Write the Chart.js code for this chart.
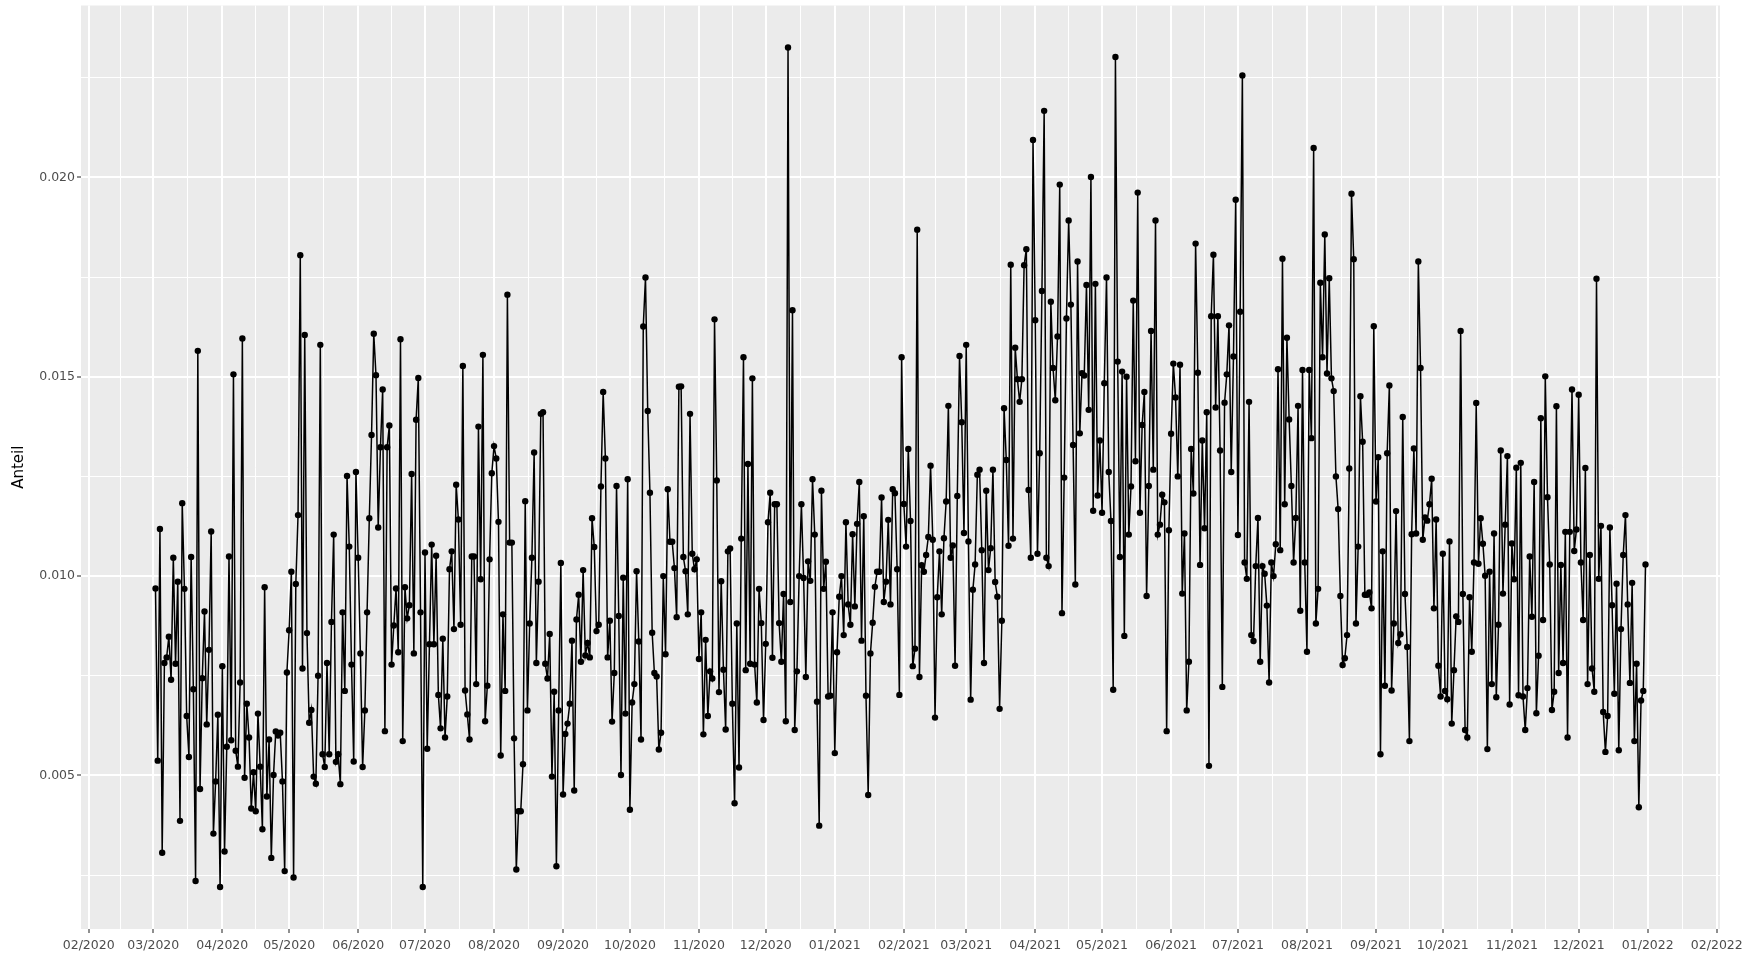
<!DOCTYPE html>
<html><head><meta charset="utf-8">
<script src="https://cdn.jsdelivr.net/npm/chart.js@4.4.0/dist/chart.umd.min.js"></script>
<style>html,body{margin:0;padding:0;background:#fff;}#wrap{width:1749px;height:957px;}</style>
</head><body><div id="wrap"><canvas id="c" width="1749" height="957"></canvas></div>
<script>
// ---- data ----
const startDate = '2020-03-02'; // first daily value, one value per day
const values2020 = [
0.00969,0.00537,0.01118,0.00306,0.00782,0.00796,0.00848,0.0074,0.01046,0.0078,
0.00986,0.00386,0.01183,0.00968,0.00649,0.00546,0.01048,0.00716,0.00235,0.01565,
0.00466,0.00744,0.00911,0.00628,0.00815,0.01112,0.00354,0.00485,0.00652,0.0022,
0.00774,0.00309,0.00572,0.01049,0.00588,0.01506,0.00562,0.00522,0.00733,0.01596,
0.00494,0.0068,0.00595,0.00417,0.00508,0.0041,0.00655,0.00522,0.00365,0.00972,
0.00447,0.0059,0.00293,0.00501,0.0061,
0.0060,0.00607,0.00485,0.0026,0.00758,0.00864,0.01011,0.00244,0.0098,0.01153,
0.01805,0.00768,0.01605,0.00857,0.00632,0.00664,0.00497,0.00479,0.0075,0.0158,
0.00553,0.00521,0.00782,0.00553,0.00885,0.01104,0.00534,0.00553,0.00478,0.00909,
0.00712,0.01251,0.01074,0.00778,0.00535,0.01261,0.01046,0.00806,0.00521,0.00663,
0.00909,0.01145,0.01354,0.01608,0.01504,0.01122,0.01323,0.01468,0.00611,0.01323,
0.01378,0.00778,0.00876,0.00969,0.00809,0.01594,
0.00586,0.00972,0.00894,0.00927,0.01256,0.00806,0.01392,0.01497,0.00909,0.0022,
0.01059,0.00567,0.00829,0.01079,0.00829,0.01051,0.00702,0.00618,0.00843,0.00595,
0.00698,0.01017,0.01062,0.00867,0.01229,0.01142,0.00878,0.01527,0.00713,0.00653,
0.0059,0.01049,0.01049,0.00729,0.01375,0.00992,0.01555,0.00636,0.00725,0.01042,
0.01258,0.01326,0.01295,0.01136,0.0055,0.00904,0.00712,0.01706,0.01084,0.01084,
0.00593,0.00264,0.0041,0.0041,0.00528,0.01188,
0.00663,0.00881,0.01046,0.0131,0.00782,0.00986,0.01407,0.01411,0.0078,0.00743,
0.00855,0.00497,0.0071,0.00272,0.00663,0.01033,0.00452,0.00604,0.0063,0.0068,
0.00838,0.00462,0.00891,0.00953,0.00785,0.01015,0.00801,0.00832,0.00796,0.01145,
0.01073,0.00862,0.00878,0.01225,0.01462,0.01295,0.00796,0.00888,0.00635,0.00757,
0.01226,0.009,0.00501,0.00996,0.00655,0.01243,0.00414,0.00683,0.00729,0.01012,
0.00836,0.0059,0.01626,0.01749,0.01414,0.01209,0.00858,
0.00757,0.00748,0.00565,0.00607,0.01,0.00804,0.01218,0.01086,0.01086,0.0102,
0.00897,0.01475,0.01476,0.01048,0.01012,0.00904,0.01407,0.01056,0.01017,0.01042,
0.00792,0.00909,0.00603,0.0084,0.00649,0.00761,0.00743,0.01644,0.0124,0.00709,
0.00987,0.00765,0.00615,0.01062,0.01069,0.0068,0.0043,0.00881,0.0052,0.01094,
0.01549,0.00764,0.01281,0.0078,0.01496,0.00778,0.00683,0.00968,0.00882,0.00639,
0.0083,0.01135,0.01209,0.00795,0.0118,0.0118,
0.00882,0.00785,0.00955,0.00636,0.02326,0.00935,0.01667,0.00614,0.00761,0.01,
0.0118,0.00995,0.00747,0.01037,0.00988,0.01243,0.01104,0.00685,0.00374,0.01214,
0.00968,0.01036,0.00698,0.007,0.00909
];
const values2021 = [
0.00556,0.00809,0.00948,0.01,0.00852,0.01135,0.00929,0.00878,0.01105,0.00924,
0.01131,0.01236,0.00838,0.0115,0.007,0.00451,0.00806,0.00883,0.00973,0.01011,
0.01011,0.01197,0.00935,0.00986,0.01141,0.00929,0.01218,0.01208,0.01017,0.00702,
0.01549,
0.01181,0.01074,0.01319,0.01138,0.00774,0.00818,0.01869,0.00747,0.01027,0.01011,
0.01053,0.01098,0.01277,0.01091,0.00645,0.00947,0.01062,0.00904,0.01095,0.01187,
0.01427,0.01046,0.01077,0.00775,0.01201,0.01552,0.01386,0.01108,0.0158,0.01087,
0.0069,0.00966,0.01029,0.01254,0.01267,0.01065,0.00782,0.01214,0.01015,0.0107,
0.01267,0.00985,0.00948,0.00667,0.00888,0.01421,0.01291,0.01076,0.01781,0.01094,
0.01573,0.01494,0.01437,0.01494,0.0178,0.0182,
0.01216,0.01046,0.02094,0.01642,0.01056,0.01308,0.01715,0.02167,0.01046,0.01025,
0.01688,0.01522,0.01441,0.01601,0.01982,0.00907,0.01247,0.01646,0.01892,0.01681,
0.01329,0.00979,0.01789,0.01358,0.01509,0.01503,0.0173,0.01417,0.02001,0.01164,
0.01733,0.01202,0.0134,0.01159,0.01484,0.01749,0.01261,0.01138,0.00715,0.02302,
0.01538,0.01048,0.01513,0.0085,0.015,0.01104,0.01225,0.01691,0.01288,0.01962,
0.01159,0.01379,0.01462,0.0095,0.01226,0.01615,0.01267,
0.01892,0.01104,0.01129,0.01204,0.01185,0.00611,0.01115,0.01357,0.01533,0.01448,
0.0125,0.0153,0.00956,0.01107,0.00663,0.00785,0.01319,0.01207,0.01834,0.0151,
0.01028,0.0134,0.0112,0.01411,0.00524,0.01652,0.01806,0.01423,0.01652,0.01315,
0.00722,0.01435,0.01506,0.01629,0.01261,0.01551,0.01944,0.01103,0.01663,0.02256,
0.01034,0.00993,0.01437,0.00852,0.00837,0.01025,0.01146,0.00785,0.01025,0.01006,
0.00926,0.00733,0.01034,0.01,0.0108,0.01519,0.01065,0.01796,
0.0118,0.01598,0.01393,0.01226,0.01034,0.01146,0.01427,0.00913,0.01517,0.01034,
0.0081,0.01517,0.01346,0.02074,0.00881,0.00968,0.01736,0.01549,0.01857,0.01508,
0.01747,0.01496,0.01464,0.0125,0.01168,0.0095,0.00777,0.00794,0.00852,0.0127,
0.01959,0.01795,0.00881,0.01074,0.01451,0.01337,0.00953,0.00953,0.00959,0.00919,
0.01627,0.01187,0.01298,0.00553,0.01062,0.00725,0.01308,0.01478,0.00713,0.00881,
0.01163,0.00832,0.00854,0.01399,0.00955,
0.00822,0.00586,0.01105,0.0132,0.01107,0.01789,0.01522,0.01091,0.01147,0.01139,
0.0118,0.01244,0.00919,0.01142,0.00775,0.00698,0.01056,0.00712,0.00691,0.01087,
0.0063,0.00764,0.00899,0.00885,0.01615,0.00955,0.00614,0.00595,0.00947,0.0081,
0.01034,0.01434,0.01031,0.01145,0.01081,0.01001,0.00566,0.01011,0.00729,0.01107,
0.00696,0.00878,0.01315,0.00956,0.01129,0.01301,0.00678,0.01082,0.00992,0.01272,
0.00701,0.01284,0.00698,0.00614,0.00719,0.01049,0.00898,
0.01236,0.00656,0.008,0.01396,0.0089,0.01501,0.01198,0.01029,0.00664,0.0071,
0.01426,0.00757,0.01028,0.00782,0.01111,0.00595,0.01111,0.01468,0.01063,0.01117,
0.01455,0.01034,0.0089,0.01271,0.00729,0.01053,0.00768,0.0071,0.01746,0.00993,
0.01126,0.00659,0.00559,0.00649,0.01122,0.00927,0.00705,0.00981,0.00563,0.00867,
0.01053,0.01153,0.00929,0.00732,0.00983,0.00586,0.0078,0.0042,0.00688,0.00712,
0.01029
];
const xTickLabels = ['02/2020','03/2020','04/2020','05/2020','06/2020','07/2020','08/2020','09/2020','10/2020','11/2020','12/2020','01/2021',
  '02/2021','03/2021','04/2021','05/2021','06/2021','07/2021','08/2021','09/2021','10/2021','11/2021','12/2021','01/2022','02/2022'];
const yTickValues = [0.005, 0.010, 0.015, 0.020];
const yTickLabels = ['0.005', '0.010', '0.015', '0.020'];
const yAxisTitle = 'Anteil';

// ---- build ----
const DAY = 86400000;
const origin = Date.UTC(2020, 1, 1);
const dayOf = (y, m, d) => Math.round((Date.UTC(y, m - 1, d) - origin) / DAY);
const sParts = startDate.split('-').map(Number);
const startIdx = dayOf(sParts[0], sParts[1], sParts[2]);
const allValues = values2020.concat(values2021);
const points = allValues.map((v, i) => ({ x: startIdx + i, y: v }));

const xMinD = startIdx, xMaxD = startIdx + allValues.length - 1;
const xPad = (xMaxD - xMinD) * 0.05;
const xMin = xMinD - xPad, xMax = xMaxD + xPad;
const yMinD = Math.min(...allValues), yMaxD = Math.max(...allValues);
const yPad = (yMaxD - yMinD) * 0.05;
const yMin = yMinD - yPad, yMax = yMaxD + yPad;

const xMajor = xTickLabels.map(l => { const [m, y] = l.split('/').map(Number); return { value: dayOf(y, m, 1), lab: l, isMajor: true }; });
const xTicks = [];
xMajor.forEach((t, i) => {
  xTicks.push(t);
  if (i < xMajor.length - 1) xTicks.push({ value: (t.value + xMajor[i + 1].value) / 2, lab: '', isMajor: false });
});
const yTicks = [];
yTickValues.forEach((v, i) => {
  const step = yTickValues[1] - yTickValues[0];
  if (i === 0) yTicks.push({ value: v - step / 2, lab: '', isMajor: false });
  yTicks.push({ value: v, lab: yTickLabels[i], isMajor: true });
  yTicks.push({ value: v + step / 2, lab: '', isMajor: false });
});

const FONT = 'DejaVu Sans';
const panelBg = {
  id: 'panelBg',
  beforeDraw(chart) {
    const { ctx, chartArea: a } = chart;
    ctx.save(); ctx.fillStyle = '#EBEBEB';
    ctx.fillRect(a.left, a.top, a.right - a.left, a.bottom - a.top);
    ctx.restore();
  }
};
const gridStyle = {
  color: '#FFFFFF',
  lineWidth: c => (c.tick && c.tick.isMajor ? 2 : 1),
  tickColor: c => (c.tick && c.tick.isMajor ? '#333333' : 'rgba(0,0,0,0)'),
  tickWidth: 1.1,
  tickLength: 4,
  drawTicks: true
};

new Chart(document.getElementById('c'), {
  type: 'scatter',
  data: { datasets: [{
    data: points, showLine: true, borderColor: '#000', borderWidth: 1.5, tension: 0,
    pointRadius: 3.2, pointBackgroundColor: '#000', pointBorderWidth: 0, pointHoverRadius: 3.2
  }] },
  options: {
    responsive: false, devicePixelRatio: 1, animation: false,
    layout: { padding: { left: 0, right: 29, top: 5.5, bottom: 0 } },
    plugins: { legend: { display: false }, tooltip: { enabled: false } },
    scales: {
      x: {
        type: 'linear', min: xMin, max: xMax, bounds: 'data',
        afterBuildTicks: s => { s.ticks = xTicks.filter(t => t.value >= xMin && t.value <= xMax).map(t => ({ ...t })); },
        afterFit: s => { s.height = 28; s.paddingLeft = 0; s.paddingRight = 0; },
        ticks: { autoSkip: false, maxRotation: 0, minRotation: 0, padding: 5, color: '#4D4D4D',
          font: { family: FONT, size: 12.5 }, callback: (v, i, t) => t[i].lab },
        grid: gridStyle, border: { display: false }
      },
      y: {
        type: 'linear', min: yMin, max: yMax, bounds: 'data',
        afterBuildTicks: s => { s.ticks = yTicks.filter(t => t.value >= yMin && t.value <= yMax).map(t => ({ ...t })); },
        afterFit: s => { s.width = 81; s.paddingTop = 0; s.paddingBottom = 0; },
        ticks: { autoSkip: false, padding: 2, color: '#4D4D4D',
          font: { family: FONT, size: 12.5 }, callback: (v, i, t) => t[i].lab },
        grid: gridStyle, border: { display: false },
        title: { display: true, text: yAxisTitle, color: '#000', font: { family: FONT, size: 15 }, padding: { top: 10, bottom: 0 } }
      }
    }
  },
  plugins: [panelBg]
});
</script></body></html>
